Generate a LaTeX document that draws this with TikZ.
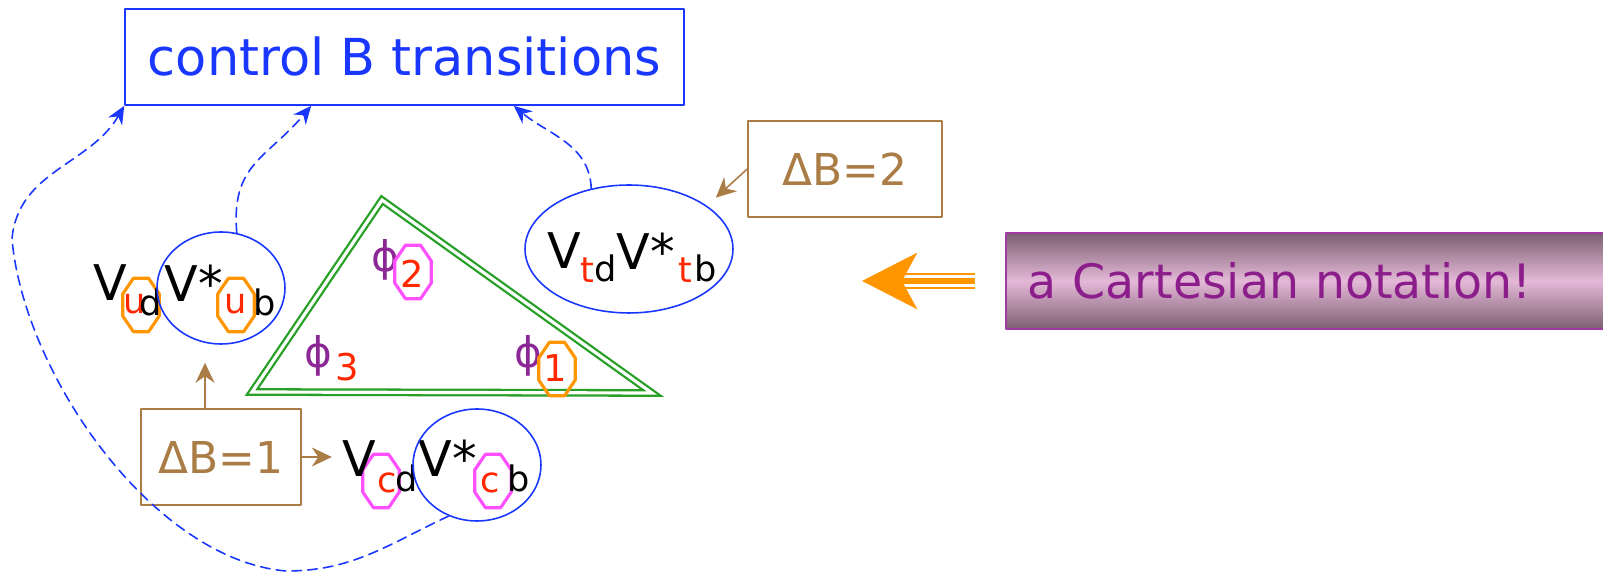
\documentclass[tikz,border=0pt]{standalone}
\usepackage{fontspec}
\setmainfont{DejaVu Sans}
\usetikzlibrary{calc,shapes.geometric,arrows.meta}
\definecolor{ctlblue}{RGB}{25,55,255}
\definecolor{dbrown}{RGB}{170,125,70}
\definecolor{trigreen}{RGB}{40,160,40}
\definecolor{hlorange}{RGB}{255,150,0}
\definecolor{hlmagenta}{RGB}{255,80,255}
\definecolor{qred}{RGB}{255,40,0}
\definecolor{phipurple}{RGB}{140,40,150}
\definecolor{cartpurple}{RGB}{140,30,140}
\definecolor{cartedge}{RGB}{160,60,160}
\definecolor{cartdark}{RGB}{125,95,115}
\definecolor{cartlight}{RGB}{228,185,215}
\tikzset{
    big/.style={
        font=\fontsize{29}{34}\selectfont
    }
}

\begin{document}
\begin{tikzpicture}[x=0.02cm,y=0.02cm, line cap=round, line join=round]

% background
\useasboundingbox (0,0) rectangle (1603,574);

\tikzset{
  ctlbox/.style={big, draw=ctlblue, text=ctlblue, line width=1pt, minimum width=11.18cm, minimum height=1.92cm},
  dbox/.style={draw=dbrown, text=dbrown, line width=0.9pt, minimum height=1.92cm, font=\fontsize{25}{30}\selectfont},
  cartbox/.style={draw=cartedge, line width=1pt, top color=cartdark, bottom color=cartdark, middle color=cartlight,
    text=cartpurple, font=\fontsize{27}{32}\selectfont, text width=11.08cm, align=left, inner xsep=0.44cm, minimum height=1.92cm},
  vbig/.style={inner sep=0pt, font=\fontsize{28}{33}\selectfont},
  sub/.style={inner sep=0pt, font=\fontsize{20}{24}\selectfont},
  qsub/.style={sub, text=qred},
  oct/.style={regular polygon, regular polygon sides=8, minimum size=1.16cm, inner sep=0pt,
    xscale=0.68, transform shape, line width=1.8pt},
  ells/.style={ellipse, draw=ctlblue, line width=0.9pt, inner sep=0pt},
  phi/.style={inner sep=0pt, text=phipurple, font=\fontsize{24}{29}\selectfont},
  dig/.style={inner sep=0pt, text=qred, font=\fontsize{21}{25}\selectfont},
  tri/.style={draw=trigreen, line width=1.3pt, double=white, double distance=1.8pt, line join=miter},
  barrow/.style={draw=dbrown, line width=0.9pt, -{Stealth[length=0.4cm,width=0.38cm]}},
  darrow/.style={draw=ctlblue, line width=0.9pt, dash pattern=on 5.5pt off 3.5pt, -{Stealth[length=0.36cm,width=0.32cm]}},
}

% boxes
\node[ctlbox] (ctrl) at (404.5,517) {control B transitions};
\node[dbox, minimum width=3.2cm] (db1) at (221,117) {ΔB=1};
\node[dbox, minimum width=3.88cm] (db2) at (845,405) {ΔB=2};
\node[cartbox, anchor=west] (cart) at (1005,293) {a Cartesian notation!};

% triangle
\coordinate (ta) at (252,182);
\coordinate (tb) at (382,374);
\coordinate (tc) at (652,181);
\draw[tri] (ta) -- (tb) -- (tc) -- cycle;

\node[phi] (f2) at (385,314) {ϕ};
\node[oct, draw=hlmagenta] (o2) at (413,302) {};
\node[dig] (n2) at (412,300) {2};
\node[phi] (f3) at (318,218) {ϕ};
\node[dig] (n3) at (347,207) {3};
\node[phi] (f1) at (528,218) {ϕ};
\node[oct, draw=hlorange] (o1) at (557,205) {};
\node[dig] (n1) at (555,206) {1};

% V_ud V*_ub
\node[oct, draw=hlorange] (ou1) at (141,269) {};
\node[oct, draw=hlorange] (ou2) at (236,269) {};
\node[vbig] (vu1) at (110,291) {V};
\node[qsub] (su1) at (135,270) {u};
\node[sub] (du) at (151,272) {d};
\node[vbig] (vu2) at (194,291) {V*};
\node[qsub] (su2) at (236,270) {u};
\node[sub] (bu) at (265,272) {b};
\node[ells, minimum width=2.56cm, minimum height=2.24cm] (eub) at (221,286) {};

% V_cd V*_cb
\node[oct, draw=hlmagenta] (oc1) at (381,93) {};
\node[oct, draw=hlmagenta] (oc2) at (493,93) {};
\node[vbig] (vc1) at (359,115) {V};
\node[qsub] (sc1) at (387,91) {c};
\node[sub] (dc) at (407,95.5) {d};
\node[vbig] (vc2) at (448,116) {V*};
\node[qsub] (sc2) at (490,91) {c};
\node[sub] (bc) at (519,95.5) {b};
\node[ells, minimum width=2.56cm, minimum height=2.24cm] (ecb) at (477,109) {};

% V_td V*_tb
\node[vbig] (vt1) at (564,323) {V};
\node[qsub] (st1) at (587,304) {t};
\node[sub] (dt) at (606,306) {d};
\node[vbig] (vt2) at (646,323) {V*};
\node[qsub] (st2) at (685,304) {t};
\node[sub] (bt) at (706,306) {b};
\node[ells, minimum width=4.16cm, minimum height=2.56cm] (etb) at (629,325) {};

% brown arrows
\draw[barrow, shorten >=0.24cm] (db2.west) -- (etb.29);
\coordinate (ua) at ($(db1.north)+(-16,0)$);
\draw[barrow, shorten >=0.36cm] (ua) -- (ua |- eub.south);
\draw[barrow, shorten >=0.2cm] (db1.east) -- (db1.east -| vc1.west);

% orange arrow
\coordinate (oa) at ($(cart.west)+(-30,0)$);
\coordinate (oc) at (905,293);
\coordinate (ob) at (862,293);
\draw[hlorange, line width=1.1pt, double=white, double distance=6.8pt, line cap=butt] (oa) -- (oc);
\draw[hlorange, line width=3.4pt, line cap=butt, -{Stealth[length=1.1cm,width=1.12cm,inset=0.3cm]}] (oa) -- (ob);

% dashed links
\coordinate (lb) at (286,3);
\coordinate (ll) at (12,335);
\draw[darrow] (eub.74) to[out=95,in=-130,looseness=1.2] ($(ctrl.south west)+(187,0)$);
\draw[darrow] (etb.122) to[out=92,in=-40] ($(ctrl.south east)+(-171,0)$);
\draw[darrow] (ecb.241) to[out=-155,in=0] (lb) to[out=175,in=-85,looseness=0.8] (ll) to[out=85,in=-120] (ctrl.south west);

\end{tikzpicture}
\end{document}
